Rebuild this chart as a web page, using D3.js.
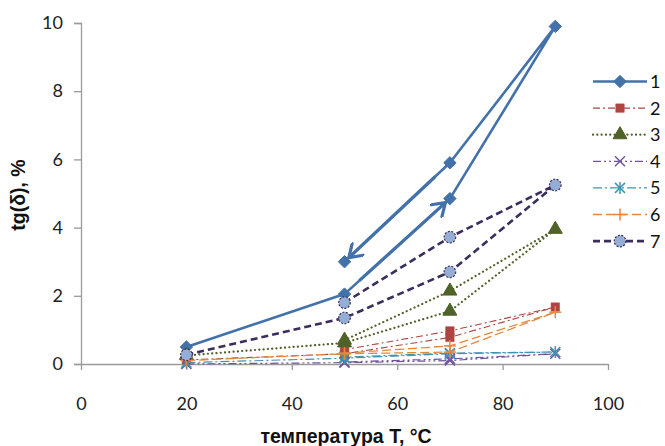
<!DOCTYPE html>
<html><head><meta charset="utf-8">
<script src="https://cdn.jsdelivr.net/npm/d3@7"></script>
<style>body{margin:0;background:#fff}svg{display:block}</style>
</head><body>
<svg id="c" width="665" height="446"></svg>
<script>
// Path order: heating 20→50→70→90, then cooling 90→70→50
const temps = [20, 50, 70, 90, 70, 50];
const s1 = [0.5, 2.05, 4.85, 9.9, 5.9, 3.0];
const s2 = [0.12, 0.3, 0.78, 1.67, 0.97, 0.42];
const s3 = [0.25, 0.62, 1.55, 3.95, 2.14, 0.7];
const s4 = [0.0, 0.04, 0.1, 0.3, 0.15, 0.06];
const s5 = [0.04, 0.17, 0.3, 0.35, 0.32, 0.2];
const s6 = [0.1, 0.3, 0.35, 1.52, 0.53, 0.32];
const s7 = [0.27, 1.35, 2.7, 5.25, 3.72, 1.8];
const seriesNames = ["1", "2", "3", "4", "5", "6", "7"];
const xTicks = [0, 20, 40, 60, 80, 100];
const yTicks = [0, 2, 4, 6, 8, 10];
const xTitle = "температура T, °C";
const yTitle = "tg(δ), %";
// arrows along series 1: [from index, to index]
const arrows = [[4, 5], [1, 2]];

const styles = [
  {color:"#4372AA", w:2.6, dash:null, marker:"diamond", fill:"#4372AA"},
  {color:"#AA4643", w:1.1, dash:"7,3,2,3", marker:"square", fill:"#B04442"},
  {color:"#4F6228", w:2.2, dash:"0.1,4.2", cap:"round", marker:"triangle", fill:"#4F6228"},
  {color:"#7153A0", w:1.2, dash:"8,3,2,3,2,3", marker:"x", fill:"none"},
  {color:"#3D96AE", w:1.2, dash:"9,3,2,3", marker:"asterisk", fill:"none"},
  {color:"#E8873A", w:1.3, dash:"9,4", marker:"plus", fill:"none"},
  {color:"#3B2D5C", w:2.6, dash:"7,4", marker:"circle", fill:"#95AED6"}
];
const data = [s1, s2, s3, s4, s5, s6, s7];

const svg = d3.select("#c");
const x = d3.scaleLinear().domain([0, 100]).range([81, 608]);
const y = d3.scaleLinear().domain([0, 10]).range([364, 23]);
const axisColor = "#9a9a9a";
const font = "Lato, 'Open Sans', sans-serif";
const titleFont = "'Liberation Sans', Arial, sans-serif";

// axes
const gy = svg.append("g").attr("transform", "translate(81,0)")
  .call(d3.axisLeft(y).tickValues(yTicks).tickSize(7).tickPadding(11).tickFormat(d3.format("d")));
gy.select(".domain").attr("stroke", axisColor).attr("stroke-width", 1.3);
gy.selectAll(".tick line").attr("stroke", axisColor).attr("stroke-width", 1.3);
gy.selectAll("text").attr("font-family", font).attr("font-size", 18).attr("fill", "#222");

const gx = svg.append("g").attr("transform", "translate(0,364)")
  .call(d3.axisBottom(x).tickValues(xTicks).tickSize(6).tickPadding(27).tickSizeOuter(0).tickFormat(d3.format("d")));
gx.select(".domain").attr("stroke", axisColor).attr("stroke-width", 1.3);
gx.selectAll(".tick line").attr("stroke", axisColor).attr("stroke-width", 1.3);
gx.selectAll("text").attr("font-family", font).attr("font-size", 18).attr("fill", "#222");

svg.append("text").attr("x", 346).attr("y", 443).attr("text-anchor", "middle")
  .attr("font-family", titleFont).attr("font-weight", "bold").attr("font-size", 19.5).attr("fill", "#111").text(xTitle);
svg.append("text").attr("transform", "translate(25,195) rotate(-90)").attr("text-anchor", "middle")
  .attr("font-family", titleFont).attr("font-weight", "bold").attr("font-size", 19.5).attr("fill", "#111").text(yTitle);

function drawMarker(g, type, st, cx, cy) {
  const c = st.color;
  if (type === "diamond") {
    const r = 6.2;
    g.append("path").attr("d", `M${cx},${cy - r}L${cx + r},${cy}L${cx},${cy + r}L${cx - r},${cy}Z`)
      .attr("fill", st.fill).attr("stroke", c).attr("stroke-width", 1).attr("stroke-linejoin", "round");
  } else if (type === "square") {
    g.append("path").attr("d", d3.symbol(d3.symbolSquare, 72)()).attr("transform", `translate(${cx},${cy})`)
      .attr("fill", st.fill).attr("stroke", st.fill).attr("stroke-width", 0.5);
  } else if (type === "triangle") {
    g.append("path").attr("d", d3.symbol(d3.symbolTriangle, 85)()).attr("transform", `translate(${cx},${cy})`)
      .attr("fill", st.fill).attr("stroke", c).attr("stroke-width", 1);
  } else if (type === "circle") {
    g.append("circle").attr("cx", cx).attr("cy", cy).attr("r", 5.8)
      .attr("fill", st.fill).attr("stroke", c).attr("stroke-width", 1.2).attr("stroke-dasharray", "2,1.5");
  } else {
    const r = 5;
    let segs = [];
    if (type === "x" || type === "asterisk") segs.push([-r, -r, r, r], [-r, r, r, -r]);
    if (type === "plus" || type === "asterisk") segs.push([0, -r - 1, 0, r + 1]);
    if (type === "plus") segs.push([-r - 1, 0, r + 1, 0]);
    segs.forEach(s => g.append("line").attr("x1", cx + s[0]).attr("y1", cy + s[1]).attr("x2", cx + s[2]).attr("y2", cy + s[3])
      .attr("stroke", c).attr("stroke-width", 1.5));
  }
}

// series lines + markers
const line = d3.line().x((d, i) => x(temps[i])).y(d => y(d));
data.forEach((vals, k) => {
  const st = styles[k];
  const g = svg.append("g");
  g.append("path").attr("d", line(vals)).attr("fill", "none").attr("stroke", st.color)
    .attr("stroke-width", st.w).attr("stroke-dasharray", st.dash).attr("stroke-linecap", st.cap || "butt")
    .attr("stroke-linejoin", "round");
  vals.forEach((v, i) => drawMarker(g, st.marker, st, x(temps[i]), y(v)));
});

// arrows on series 1
svg.append("defs").append("marker").attr("id", "arr").attr("viewBox", "-14 -9 16 18")
  .attr("refX", 0).attr("refY", 0).attr("markerWidth", 16).attr("markerHeight", 18)
  .attr("markerUnits", "userSpaceOnUse").attr("orient", "auto")
  .append("path").attr("d", "M-12,-8 L0,0 L-12,8").attr("fill", "none")
  .attr("stroke", styles[0].color).attr("stroke-width", 3.2).attr("stroke-linecap", "round").attr("stroke-linejoin", "round");
arrows.forEach(([a, b]) => {
  const x1 = x(temps[a]), y1 = y(s1[a]), x2 = x(temps[b]), y2 = y(s1[b]);
  const len = Math.hypot(x2 - x1, y2 - y1);
  const ux = (x2 - x1) / len, uy = (y2 - y1) / len;
  svg.append("line").attr("x1", x1 + ux * 20).attr("y1", y1 + uy * 20)
    .attr("x2", x2 - ux * 6).attr("y2", y2 - uy * 6)
    .attr("stroke", styles[0].color).attr("stroke-width", 3.2).attr("marker-end", "url(#arr)");
});

// legend
const legY0 = 81.5, legDy = 26.6;
seriesNames.forEach((name, k) => {
  const st = styles[k];
  const ly = legY0 + k * legDy;
  const g = svg.append("g");
  g.append("line").attr("x1", 593).attr("x2", 647).attr("y1", ly).attr("y2", ly)
    .attr("stroke", st.color).attr("stroke-width", st.w).attr("stroke-dasharray", st.dash)
    .attr("stroke-linecap", st.cap || "butt");
  drawMarker(g, st.marker, st, 620, ly);
  g.append("text").attr("x", 650).attr("y", ly + 6.5).attr("font-family", font).attr("font-size", 18)
    .attr("fill", "#111").text(name);
});
</script>
</body></html>
